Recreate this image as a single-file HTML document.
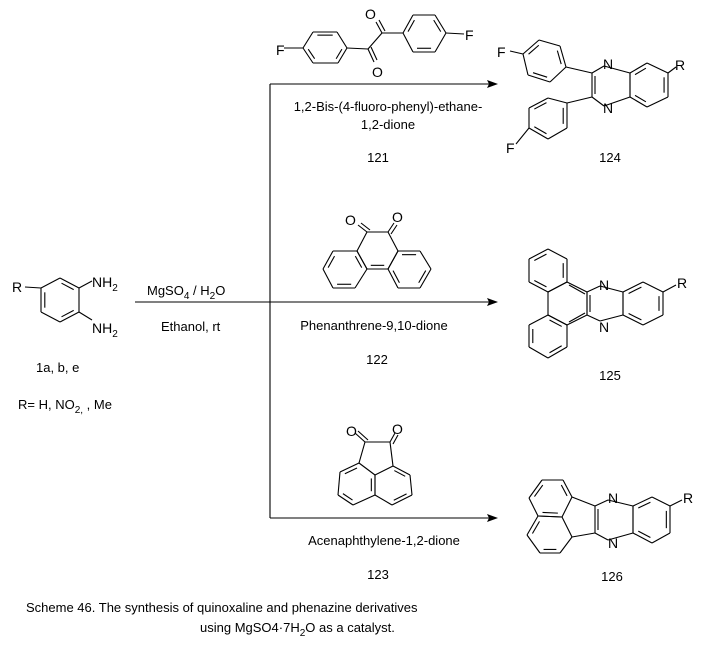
<!DOCTYPE html>
<html><head><meta charset="utf-8">
<style>
html,body{margin:0;padding:0;background:#fff;}
svg{display:block;}
text{font-family:"Liberation Sans",Arial,sans-serif;fill:#000;}
.a{font-size:14px;}
.l{font-size:13px;}
</style></head>
<body>
<svg id="s" width="714" height="647" viewBox="0 0 714 647" xmlns="http://www.w3.org/2000/svg">
<g id="g" stroke="#000" stroke-width="1.1" fill="none">
<line x1="135" y1="302" x2="497" y2="302"/>
<line x1="270" y1="84" x2="270" y2="518"/>
<line x1="270" y1="84" x2="490" y2="84"/>
<line x1="270" y1="518" x2="490" y2="518"/>
</g>
<g fill="#000">
<polygon points="498,84 487,80 489,84 487,88"/>
<polygon points="498,302 487,298 489,302 487,306"/>
<polygon points="498,518 487,514 489,518 487,522"/>
</g>
<text class="a" x="12" y="292">R</text>
<text class="a" x="92" y="287">NH<tspan font-size="10" dy="4">2</tspan></text>
<text class="a" x="92" y="333">NH<tspan font-size="10" dy="4">2</tspan></text>
<text class="l" x="36" y="372">1a, b, e</text>
<text class="l" x="18" y="409">R= H, NO<tspan font-size="10" dy="4">2,</tspan><tspan dy="-4"> , Me</tspan></text>
<text class="l" x="147" y="295">MgSO<tspan font-size="10" dy="4">4</tspan><tspan dy="-4"> /  H</tspan><tspan font-size="10" dy="4">2</tspan><tspan dy="-4">O</tspan></text>
<text class="l" x="161" y="331">Ethanol, rt</text>

<text class="a" x="276" y="55">F</text>
<text class="a" x="465" y="40">F</text>
<text class="a" x="365" y="19">O</text>
<text class="a" x="372" y="77">O</text>
<text class="l" x="388" y="111" text-anchor="middle">1,2-Bis-(4-fluoro-phenyl)-ethane-</text>
<text class="l" x="388" y="129" text-anchor="middle">1,2-dione</text>
<text class="l" x="378" y="162" text-anchor="middle">121</text>

<text class="a" x="345" y="225">O</text>
<text class="a" x="392" y="222">O</text>
<text class="l" x="374" y="330" text-anchor="middle">Phenanthrene-9,10-dione</text>
<text class="l" x="377" y="364" text-anchor="middle">122</text>

<text class="a" x="346" y="436">O</text>
<text class="a" x="392" y="434">O</text>
<text class="l" x="384" y="545" text-anchor="middle">Acenaphthylene-1,2-dione</text>
<text class="l" x="378" y="579" text-anchor="middle">123</text>

<text class="a" x="497" y="57">F</text>
<text class="a" x="506" y="153">F</text>
<text class="a" x="603" y="69">N</text>
<text class="a" x="603" y="113">N</text>
<text class="a" x="675" y="70">R</text>
<text class="l" x="610" y="162" text-anchor="middle">124</text>

<text class="a" x="599" y="290">N</text>
<text class="a" x="599" y="332">N</text>
<text class="a" x="677" y="288">R</text>
<text class="l" x="610" y="380" text-anchor="middle">125</text>

<text class="a" x="608" y="503">N</text>
<text class="a" x="608" y="548">N</text>
<text class="a" x="683" y="503">R</text>
<text class="l" x="612" y="581" text-anchor="middle">126</text>

<text class="l" x="26" y="612">Scheme 46. The synthesis of quinoxaline and phenazine derivatives</text>
<text class="l" x="200" y="632">using MgSO4·7H<tspan font-size="10" dy="4">2</tspan><tspan dy="-4">O as a catalyst.</tspan></text>
</svg>
<script>
var g=document.getElementById('g');
function L(a,b,c,d){var e=document.createElementNS('http://www.w3.org/2000/svg','line');e.setAttribute('x1',a);e.setAttribute('y1',b);e.setAttribute('x2',c);e.setAttribute('y2',d);g.appendChild(e);}
function R(p,dbl){var n=p.length,cx=0,cy=0;p.forEach(function(q){cx+=q[0];cy+=q[1];});cx/=n;cy/=n;
for(var i=0;i<n;i++){var a=p[i],b=p[(i+1)%n];L(a[0],a[1],b[0],b[1]);}
(dbl||[]).forEach(function(i){var a=p[i],b=p[(i+1)%n];var f=0.2;
var ax=a[0]+(cx-a[0])*f,ay=a[1]+(cy-a[1])*f,bx=b[0]+(cx-b[0])*f,by=b[1]+(cy-b[1])*f;
var t=0.1;L(ax+(bx-ax)*t,ay+(by-ay)*t,bx-(bx-ax)*t,by-(by-ay)*t);});}
R([[60,278],[79,288],[79,312],[60,322],[41,312],[41,288]],[0,2,4]);
L(79,288,92,281);L(79,312,92,320);L(41,288,25,287);
R([[303,48],[313,32],[337,32],[347,48],[338,63],[313,63]],[1,3,5]);
L(284,48,303,48);L(347,48,368,49);L(368,49,382,33);
L(368,49,374,62);L(371,47,377,60);
L(382,33,376,22);L(385,31,379,20);
L(382,33,403,33);
R([[403,33],[413,15],[435,15],[446,33],[435,52],[413,52]],[0,2,4]);
L(446,33,464,34);
L(367,232,358,225);L(370,230,361,223);
L(388,232,394,223);L(391,234,397,225);
R([[367,232],[388,232],[398,251],[388,269],[367,269],[357,251]],[3]);
R([[357,251],[333,251],[323,269],[333,288],[355,288],[367,269]],[1,3,5]);
R([[398,251],[420,251],[431,269],[420,288],[398,288],[388,269]],[0,2,4]);
L(365,442,390,442);
L(365,442,355,433);L(368,440,358,431);
L(390,442,395,433);L(393,444,398,435);
L(365,442,359,463);L(390,442,393,466);
R([[359,463],[340,472],[338,495],[353,505],[375,495],[375,475]],[0,2,4]);
R([[375,475],[375,495],[392,505],[412,495],[410,475],[393,466]],[2,4]);
R([[592,73],[604,66],[630,73],[630,97],[604,106],[592,97]],[]);
L(595,76,595,94);
R([[630,73],[647,63],[668,73],[668,97],[647,107],[630,97]],[0,2,4]);
L(668,73,676,67);
L(592,73,566,67);
R([[566,67],[560,46],[539,40],[523,54],[528,75],[550,82]],[0,2,4]);
L(523,54,510,51);
L(592,97,567,103);
R([[567,103],[567,128],[548,139],[529,128],[529,108],[548,98]],[0,2,4]);
L(529,128,516,144);
R([[587,292],[600,286],[623,292],[623,315],[600,321],[587,315]],[]);
L(590,295,590,312);
R([[623,292],[643,282],[663,292],[663,315],[643,325],[623,315]],[0,2,4]);
L(663,292,676,285);
R([[587,292],[567,282],[548,292],[548,315],[567,325],[587,315]],[]);
L(585,294,569,285);L(585,313,569,322);
R([[567,282],[567,259],[548,249],[529,259],[529,282],[548,292]],[0,2,4]);
R([[548,315],[529,325],[529,347],[548,358],[567,347],[567,325]],[1,3,5]);
R([[595,506],[608,500],[633,506],[633,533],[608,540],[595,533]],[]);
L(598,509,598,530);
R([[633,506],[652,497],[670,506],[670,533],[652,543],[633,533]],[0,2,4]);
L(670,506,682,500);
L(595,506,572,497);L(595,533,572,537);
R([[572,497],[563,480],[542,480],[529,498],[538,516],[562,517]],[0,2,4]);
R([[538,516],[527,535],[540,553],[560,553],[572,537],[562,517]],[0,2]);
</script>
</body></html>
